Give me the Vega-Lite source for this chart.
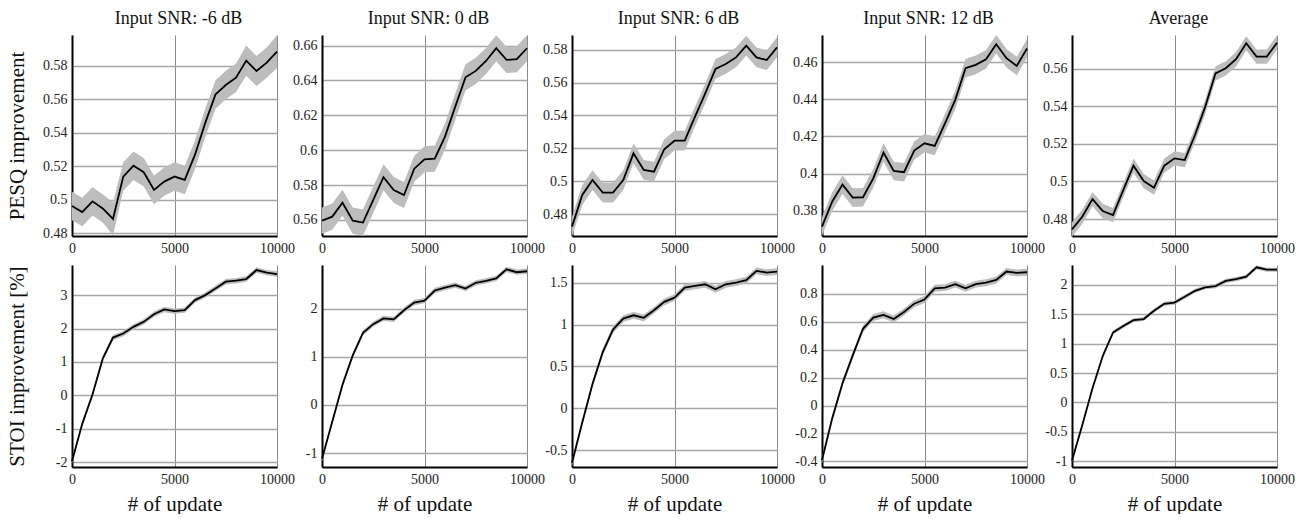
{
"$schema": "https://vega.github.io/schema/vega-lite/v6.json",
"background": "white",
"padding": {"left": 5, "top": 10, "right": 0, "bottom": 0},
"spacing": 8,
"datasets": {
"p1": [
{"x":0,"y":0.4963,"lo":0.4878,"hi":0.5048},{"x":500,"y":0.4927,"lo":0.4842,"hi":0.5012},{"x":1000,"y":0.4991,"lo":0.4906,"hi":0.5076},{"x":1500,"y":0.4949,"lo":0.4864,"hi":0.5034},{"x":2000,"y":0.4886,"lo":0.4788,"hi":0.4984},{"x":2500,"y":0.5139,"lo":0.5054,"hi":0.5224},{"x":3000,"y":0.5204,"lo":0.5119,"hi":0.5289},{"x":3500,"y":0.5165,"lo":0.508,"hi":0.525},{"x":4000,"y":0.5059,"lo":0.4974,"hi":0.5144},{"x":4500,"y":0.5109,"lo":0.5024,"hi":0.5194},{"x":5000,"y":0.5139,"lo":0.5054,"hi":0.5224},{"x":5500,"y":0.5119,"lo":0.5034,"hi":0.5204},{"x":6000,"y":0.527,"lo":0.5185,"hi":0.5355},{"x":6500,"y":0.546,"lo":0.5375,"hi":0.5545},{"x":7000,"y":0.563,"lo":0.5545,"hi":0.5715},{"x":7500,"y":0.5686,"lo":0.5601,"hi":0.5771},{"x":8000,"y":0.573,"lo":0.5645,"hi":0.5815},{"x":8500,"y":0.5832,"lo":0.5742,"hi":0.5922},{"x":9000,"y":0.577,"lo":0.568,"hi":0.586},{"x":9500,"y":0.582,"lo":0.573,"hi":0.591},{"x":10000,"y":0.5886,"lo":0.5788,"hi":0.5984}],
"p2": [
{"x":0,"y":0.5596,"lo":0.5521,"hi":0.5671},{"x":500,"y":0.5619,"lo":0.5544,"hi":0.5694},{"x":1000,"y":0.5699,"lo":0.5624,"hi":0.5774},{"x":1500,"y":0.5596,"lo":0.5521,"hi":0.5671},{"x":2000,"y":0.5585,"lo":0.551,"hi":0.566},{"x":2500,"y":0.5715,"lo":0.564,"hi":0.579},{"x":3000,"y":0.5845,"lo":0.577,"hi":0.592},{"x":3500,"y":0.5772,"lo":0.5697,"hi":0.5847},{"x":4000,"y":0.5743,"lo":0.5668,"hi":0.5818},{"x":4500,"y":0.5894,"lo":0.5819,"hi":0.5969},{"x":5000,"y":0.5948,"lo":0.5873,"hi":0.6023},{"x":5500,"y":0.5952,"lo":0.5877,"hi":0.6027},{"x":6000,"y":0.6078,"lo":0.6003,"hi":0.6153},{"x":6500,"y":0.625,"lo":0.6175,"hi":0.6325},{"x":7000,"y":0.6418,"lo":0.6343,"hi":0.6493},{"x":7500,"y":0.6455,"lo":0.638,"hi":0.653},{"x":8000,"y":0.6512,"lo":0.6437,"hi":0.6587},{"x":8500,"y":0.6585,"lo":0.651,"hi":0.666},{"x":9000,"y":0.6518,"lo":0.6443,"hi":0.6593},{"x":9500,"y":0.6522,"lo":0.6447,"hi":0.6597},{"x":10000,"y":0.6585,"lo":0.651,"hi":0.666}],
"p3": [
{"x":0,"y":0.4725,"lo":0.4665,"hi":0.4785},{"x":500,"y":0.4917,"lo":0.4857,"hi":0.4977},{"x":1000,"y":0.5008,"lo":0.4948,"hi":0.5068},{"x":1500,"y":0.4932,"lo":0.4872,"hi":0.4992},{"x":2000,"y":0.4932,"lo":0.4872,"hi":0.4992},{"x":2500,"y":0.5008,"lo":0.4948,"hi":0.5068},{"x":3000,"y":0.517,"lo":0.511,"hi":0.523},{"x":3500,"y":0.5069,"lo":0.5009,"hi":0.5129},{"x":4000,"y":0.5059,"lo":0.4999,"hi":0.5119},{"x":4500,"y":0.5195,"lo":0.5135,"hi":0.5255},{"x":5000,"y":0.5247,"lo":0.5187,"hi":0.5307},{"x":5500,"y":0.5247,"lo":0.5187,"hi":0.5307},{"x":6000,"y":0.5393,"lo":0.5333,"hi":0.5453},{"x":6500,"y":0.5535,"lo":0.5475,"hi":0.5595},{"x":7000,"y":0.5683,"lo":0.5623,"hi":0.5743},{"x":7500,"y":0.5713,"lo":0.5653,"hi":0.5773},{"x":8000,"y":0.5753,"lo":0.5693,"hi":0.5813},{"x":8500,"y":0.5824,"lo":0.5764,"hi":0.5884},{"x":9000,"y":0.5753,"lo":0.5693,"hi":0.5813},{"x":9500,"y":0.5737,"lo":0.5677,"hi":0.5797},{"x":10000,"y":0.5814,"lo":0.5754,"hi":0.5874}],
"p4": [
{"x":0,"y":0.3714,"lo":0.3664,"hi":0.3764},{"x":500,"y":0.3849,"lo":0.3799,"hi":0.3899},{"x":1000,"y":0.394,"lo":0.389,"hi":0.399},{"x":1500,"y":0.387,"lo":0.382,"hi":0.392},{"x":2000,"y":0.3872,"lo":0.3822,"hi":0.3922},{"x":2500,"y":0.3974,"lo":0.3924,"hi":0.4024},{"x":3000,"y":0.4113,"lo":0.4063,"hi":0.4163},{"x":3500,"y":0.4014,"lo":0.3964,"hi":0.4064},{"x":4000,"y":0.4007,"lo":0.3957,"hi":0.4057},{"x":4500,"y":0.4124,"lo":0.4074,"hi":0.4174},{"x":5000,"y":0.4163,"lo":0.4113,"hi":0.4213},{"x":5500,"y":0.4149,"lo":0.4099,"hi":0.4199},{"x":6000,"y":0.4271,"lo":0.4221,"hi":0.4321},{"x":6500,"y":0.4397,"lo":0.4347,"hi":0.4447},{"x":7000,"y":0.4568,"lo":0.4518,"hi":0.4618},{"x":7500,"y":0.4586,"lo":0.4536,"hi":0.4636},{"x":8000,"y":0.4616,"lo":0.4566,"hi":0.4666},{"x":8500,"y":0.4697,"lo":0.4647,"hi":0.4747},{"x":9000,"y":0.4622,"lo":0.4572,"hi":0.4672},{"x":9500,"y":0.458,"lo":0.453,"hi":0.463},{"x":10000,"y":0.4674,"lo":0.4624,"hi":0.4724}],
"p5": [
{"x":0,"y":0.4745,"lo":0.4707,"hi":0.4783},{"x":500,"y":0.4812,"lo":0.4774,"hi":0.485},{"x":1000,"y":0.4906,"lo":0.4868,"hi":0.4944},{"x":1500,"y":0.4843,"lo":0.4805,"hi":0.4881},{"x":2000,"y":0.4821,"lo":0.4783,"hi":0.4859},{"x":2500,"y":0.4954,"lo":0.4916,"hi":0.4992},{"x":3000,"y":0.5084,"lo":0.5046,"hi":0.5122},{"x":3500,"y":0.5002,"lo":0.4964,"hi":0.504},{"x":4000,"y":0.4967,"lo":0.4929,"hi":0.5005},{"x":4500,"y":0.5084,"lo":0.5046,"hi":0.5122},{"x":5000,"y":0.5123,"lo":0.5085,"hi":0.5161},{"x":5500,"y":0.5114,"lo":0.5076,"hi":0.5152},{"x":6000,"y":0.5247,"lo":0.5209,"hi":0.5285},{"x":6500,"y":0.5398,"lo":0.536,"hi":0.5436},{"x":7000,"y":0.5575,"lo":0.5537,"hi":0.5613},{"x":7500,"y":0.5602,"lo":0.5564,"hi":0.564},{"x":8000,"y":0.565,"lo":0.5612,"hi":0.5688},{"x":8500,"y":0.5735,"lo":0.5697,"hi":0.5773},{"x":9000,"y":0.5664,"lo":0.5626,"hi":0.5702},{"x":9500,"y":0.5664,"lo":0.5626,"hi":0.5702},{"x":10000,"y":0.5738,"lo":0.57,"hi":0.5776}],
"p6": [
{"x":0,"y":-1.97,"lo":-2.05,"hi":-1.89},{"x":500,"y":-0.85,"lo":-0.93,"hi":-0.77},{"x":1000,"y":0.03,"lo":-0.05,"hi":0.11},{"x":1500,"y":1.1,"lo":1.02,"hi":1.18},{"x":2000,"y":1.73,"lo":1.65,"hi":1.81},{"x":2500,"y":1.85,"lo":1.77,"hi":1.93},{"x":3000,"y":2.05,"lo":1.97,"hi":2.13},{"x":3500,"y":2.2,"lo":2.12,"hi":2.28},{"x":4000,"y":2.43,"lo":2.35,"hi":2.51},{"x":4500,"y":2.57,"lo":2.49,"hi":2.65},{"x":5000,"y":2.52,"lo":2.44,"hi":2.6},{"x":5500,"y":2.55,"lo":2.47,"hi":2.63},{"x":6000,"y":2.85,"lo":2.77,"hi":2.93},{"x":6500,"y":3.0,"lo":2.92,"hi":3.08},{"x":7000,"y":3.2,"lo":3.12,"hi":3.28},{"x":7500,"y":3.4,"lo":3.32,"hi":3.48},{"x":8000,"y":3.43,"lo":3.35,"hi":3.51},{"x":8500,"y":3.48,"lo":3.4,"hi":3.56},{"x":9000,"y":3.75,"lo":3.67,"hi":3.83},{"x":9500,"y":3.67,"lo":3.59,"hi":3.75},{"x":10000,"y":3.63,"lo":3.55,"hi":3.71}],
"p7": [
{"x":0,"y":-1.12,"lo":-1.175,"hi":-1.065},{"x":500,"y":-0.35,"lo":-0.405,"hi":-0.295},{"x":1000,"y":0.42,"lo":0.365,"hi":0.475},{"x":1500,"y":1.03,"lo":0.975,"hi":1.085},{"x":2000,"y":1.5,"lo":1.445,"hi":1.555},{"x":2500,"y":1.68,"lo":1.625,"hi":1.735},{"x":3000,"y":1.8,"lo":1.745,"hi":1.855},{"x":3500,"y":1.78,"lo":1.725,"hi":1.835},{"x":4000,"y":1.97,"lo":1.915,"hi":2.025},{"x":4500,"y":2.13,"lo":2.075,"hi":2.185},{"x":5000,"y":2.17,"lo":2.115,"hi":2.225},{"x":5500,"y":2.38,"lo":2.325,"hi":2.435},{"x":6000,"y":2.44,"lo":2.385,"hi":2.495},{"x":6500,"y":2.49,"lo":2.435,"hi":2.545},{"x":7000,"y":2.42,"lo":2.365,"hi":2.475},{"x":7500,"y":2.54,"lo":2.485,"hi":2.595},{"x":8000,"y":2.58,"lo":2.525,"hi":2.635},{"x":8500,"y":2.63,"lo":2.575,"hi":2.685},{"x":9000,"y":2.82,"lo":2.765,"hi":2.875},{"x":9500,"y":2.76,"lo":2.705,"hi":2.815},{"x":10000,"y":2.78,"lo":2.725,"hi":2.835}],
"p8": [
{"x":0,"y":-0.65,"lo":-0.69,"hi":-0.61},{"x":500,"y":-0.17,"lo":-0.21,"hi":-0.13},{"x":1000,"y":0.29,"lo":0.25,"hi":0.33},{"x":1500,"y":0.67,"lo":0.63,"hi":0.71},{"x":2000,"y":0.94,"lo":0.9,"hi":0.98},{"x":2500,"y":1.07,"lo":1.03,"hi":1.11},{"x":3000,"y":1.11,"lo":1.07,"hi":1.15},{"x":3500,"y":1.08,"lo":1.04,"hi":1.12},{"x":4000,"y":1.17,"lo":1.13,"hi":1.21},{"x":4500,"y":1.27,"lo":1.23,"hi":1.31},{"x":5000,"y":1.32,"lo":1.28,"hi":1.36},{"x":5500,"y":1.44,"lo":1.4,"hi":1.48},{"x":6000,"y":1.46,"lo":1.42,"hi":1.5},{"x":6500,"y":1.48,"lo":1.44,"hi":1.52},{"x":7000,"y":1.42,"lo":1.38,"hi":1.46},{"x":7500,"y":1.48,"lo":1.44,"hi":1.52},{"x":8000,"y":1.5,"lo":1.46,"hi":1.54},{"x":8500,"y":1.53,"lo":1.49,"hi":1.57},{"x":9000,"y":1.64,"lo":1.6,"hi":1.68},{"x":9500,"y":1.62,"lo":1.58,"hi":1.66},{"x":10000,"y":1.63,"lo":1.59,"hi":1.67}],
"p9": [
{"x":0,"y":-0.39,"lo":-0.415,"hi":-0.365},{"x":500,"y":-0.09,"lo":-0.115,"hi":-0.065},{"x":1000,"y":0.16,"lo":0.135,"hi":0.185},{"x":1500,"y":0.36,"lo":0.335,"hi":0.385},{"x":2000,"y":0.55,"lo":0.525,"hi":0.575},{"x":2500,"y":0.63,"lo":0.605,"hi":0.655},{"x":3000,"y":0.65,"lo":0.625,"hi":0.675},{"x":3500,"y":0.62,"lo":0.595,"hi":0.645},{"x":4000,"y":0.67,"lo":0.645,"hi":0.695},{"x":4500,"y":0.73,"lo":0.705,"hi":0.755},{"x":5000,"y":0.76,"lo":0.735,"hi":0.785},{"x":5500,"y":0.84,"lo":0.815,"hi":0.865},{"x":6000,"y":0.845,"lo":0.82,"hi":0.87},{"x":6500,"y":0.87,"lo":0.845,"hi":0.895},{"x":7000,"y":0.84,"lo":0.815,"hi":0.865},{"x":7500,"y":0.87,"lo":0.845,"hi":0.895},{"x":8000,"y":0.88,"lo":0.855,"hi":0.905},{"x":8500,"y":0.9,"lo":0.875,"hi":0.925},{"x":9000,"y":0.96,"lo":0.935,"hi":0.985},{"x":9500,"y":0.95,"lo":0.925,"hi":0.975},{"x":10000,"y":0.955,"lo":0.93,"hi":0.98}],
"p10": [
{"x":0,"y":-0.99,"lo":-1.025,"hi":-0.955},{"x":500,"y":-0.39,"lo":-0.425,"hi":-0.355},{"x":1000,"y":0.24,"lo":0.205,"hi":0.275},{"x":1500,"y":0.79,"lo":0.755,"hi":0.825},{"x":2000,"y":1.19,"lo":1.155,"hi":1.225},{"x":2500,"y":1.3,"lo":1.265,"hi":1.335},{"x":3000,"y":1.4,"lo":1.365,"hi":1.435},{"x":3500,"y":1.42,"lo":1.385,"hi":1.455},{"x":4000,"y":1.56,"lo":1.525,"hi":1.595},{"x":4500,"y":1.68,"lo":1.645,"hi":1.715},{"x":5000,"y":1.7,"lo":1.665,"hi":1.735},{"x":5500,"y":1.8,"lo":1.765,"hi":1.835},{"x":6000,"y":1.9,"lo":1.865,"hi":1.935},{"x":6500,"y":1.96,"lo":1.925,"hi":1.995},{"x":7000,"y":1.98,"lo":1.945,"hi":2.015},{"x":7500,"y":2.07,"lo":2.035,"hi":2.105},{"x":8000,"y":2.1,"lo":2.065,"hi":2.135},{"x":8500,"y":2.14,"lo":2.105,"hi":2.175},{"x":9000,"y":2.3,"lo":2.265,"hi":2.335},{"x":9500,"y":2.26,"lo":2.225,"hi":2.295},{"x":10000,"y":2.26,"lo":2.225,"hi":2.295}]
},
"vconcat": [
{"hconcat": [
{"width":205,"height":201,"data":{"name":"p1"},"title":{"text":"Input SNR: -6 dB"},
 "encoding":{"x":{"field":"x","type":"quantitative","scale":{"domain":[0,10000],"nice":false},"axis":{"values":[0,5000,10000],"title":null}}},
 "layer":[
  {"mark":{"type":"area","color":"#bdbdbd"},"encoding":{"y":{"field":"lo","type":"quantitative","scale":{"domain":[0.4784,0.5985],"nice":false,"zero":false},"axis":{"values":[0.48,0.5,0.52,0.54,0.56,0.58],"tickCount":50,"title":"PESQ improvement","titleX":-49,"titleY":100.5}},"y2":{"field":"hi"}}},
  {"mark":{"type":"line","color":"black","strokeWidth":1.8},"encoding":{"y":{"field":"y","type":"quantitative","title":"PESQ improvement"}}}]},
{"width":205,"height":201,"data":{"name":"p2"},"title":{"text":"Input SNR: 0 dB"},
 "encoding":{"x":{"field":"x","type":"quantitative","scale":{"domain":[0,10000],"nice":false},"axis":{"values":[0,5000,10000],"title":null}}},
 "layer":[
  {"mark":{"type":"area","color":"#bdbdbd"},"encoding":{"y":{"field":"lo","type":"quantitative","scale":{"domain":[0.5508,0.6661],"nice":false,"zero":false},"axis":{"values":[0.56,0.58,0.6,0.62,0.64,0.66],"tickCount":50,"title":null}},"y2":{"field":"hi"}}},
  {"mark":{"type":"line","color":"black","strokeWidth":1.8},"encoding":{"y":{"field":"y","type":"quantitative","title":null}}}]},
{"width":205,"height":201,"data":{"name":"p3"},"title":{"text":"Input SNR: 6 dB"},
 "encoding":{"x":{"field":"x","type":"quantitative","scale":{"domain":[0,10000],"nice":false},"axis":{"values":[0,5000,10000],"title":null}}},
 "layer":[
  {"mark":{"type":"area","color":"#bdbdbd"},"encoding":{"y":{"field":"lo","type":"quantitative","scale":{"domain":[0.4668,0.5889],"nice":false,"zero":false},"axis":{"values":[0.48,0.5,0.52,0.54,0.56,0.58],"tickCount":50,"title":null}},"y2":{"field":"hi"}}},
  {"mark":{"type":"line","color":"black","strokeWidth":1.8},"encoding":{"y":{"field":"y","type":"quantitative","title":null}}}]},
{"width":205,"height":201,"data":{"name":"p4"},"title":{"text":"Input SNR: 12 dB"},
 "encoding":{"x":{"field":"x","type":"quantitative","scale":{"domain":[0,10000],"nice":false},"axis":{"values":[0,5000,10000],"title":null}}},
 "layer":[
  {"mark":{"type":"area","color":"#bdbdbd"},"encoding":{"y":{"field":"lo","type":"quantitative","scale":{"domain":[0.3663,0.4747],"nice":false,"zero":false},"axis":{"values":[0.38,0.4,0.42,0.44,0.46],"tickCount":50,"title":null}},"y2":{"field":"hi"}}},
  {"mark":{"type":"line","color":"black","strokeWidth":1.8},"encoding":{"y":{"field":"y","type":"quantitative","title":null}}}]},
{"width":205,"height":201,"data":{"name":"p5"},"title":{"text":"Average"},
 "encoding":{"x":{"field":"x","type":"quantitative","scale":{"domain":[0,10000],"nice":false},"axis":{"values":[0,5000,10000],"title":null}}},
 "layer":[
  {"mark":{"type":"area","color":"#bdbdbd"},"encoding":{"y":{"field":"lo","type":"quantitative","scale":{"domain":[0.471,0.5779],"nice":false,"zero":false},"axis":{"values":[0.48,0.5,0.52,0.54,0.56],"tickCount":50,"title":null}},"y2":{"field":"hi"}}},
  {"mark":{"type":"line","color":"black","strokeWidth":1.8},"encoding":{"y":{"field":"y","type":"quantitative","title":null}}}]}
], "spacing": 45, "bounds": "flush"},
{"hconcat": [
{"width":205,"height":202,"data":{"name":"p6"},
 "encoding":{"x":{"field":"x","type":"quantitative","scale":{"domain":[0,10000],"nice":false},"axis":{"values":[0,5000,10000],"title":"# of update","titleY":43}}},
 "layer":[
  {"mark":{"type":"area","color":"#bdbdbd"},"encoding":{"y":{"field":"lo","type":"quantitative","scale":{"domain":[-2.14,3.9],"nice":false,"zero":false},"axis":{"values":[-2,-1,0,1,2,3],"tickCount":50,"title":"STOI improvement [%]","titleX":-49,"titleY":101}},"y2":{"field":"hi"}}},
  {"mark":{"type":"line","color":"black","strokeWidth":1.8},"encoding":{"y":{"field":"y","type":"quantitative","title":"STOI improvement [%]"}}}]},
{"width":205,"height":202,"data":{"name":"p7"},
 "encoding":{"x":{"field":"x","type":"quantitative","scale":{"domain":[0,10000],"nice":false},"axis":{"values":[0,5000,10000],"title":"# of update","titleY":43}}},
 "layer":[
  {"mark":{"type":"area","color":"#bdbdbd"},"encoding":{"y":{"field":"lo","type":"quantitative","scale":{"domain":[-1.29,2.91],"nice":false,"zero":false},"axis":{"values":[-1,0,1,2],"tickCount":50,"title":null}},"y2":{"field":"hi"}}},
  {"mark":{"type":"line","color":"black","strokeWidth":1.8},"encoding":{"y":{"field":"y","type":"quantitative","title":null}}}]},
{"width":205,"height":202,"data":{"name":"p8"},
 "encoding":{"x":{"field":"x","type":"quantitative","scale":{"domain":[0,10000],"nice":false},"axis":{"values":[0,5000,10000],"title":"# of update","titleY":43}}},
 "layer":[
  {"mark":{"type":"area","color":"#bdbdbd"},"encoding":{"y":{"field":"lo","type":"quantitative","scale":{"domain":[-0.7,1.71],"nice":false,"zero":false},"axis":{"values":[-0.5,0,0.5,1,1.5],"tickCount":50,"title":null}},"y2":{"field":"hi"}}},
  {"mark":{"type":"line","color":"black","strokeWidth":1.8},"encoding":{"y":{"field":"y","type":"quantitative","title":null}}}]},
{"width":205,"height":202,"data":{"name":"p9"},
 "encoding":{"x":{"field":"x","type":"quantitative","scale":{"domain":[0,10000],"nice":false},"axis":{"values":[0,5000,10000],"title":"# of update","titleY":43}}},
 "layer":[
  {"mark":{"type":"area","color":"#bdbdbd"},"encoding":{"y":{"field":"lo","type":"quantitative","scale":{"domain":[-0.44,1.007],"nice":false,"zero":false},"axis":{"values":[-0.4,-0.2,0,0.2,0.4,0.6,0.8],"tickCount":50,"title":null}},"y2":{"field":"hi"}}},
  {"mark":{"type":"line","color":"black","strokeWidth":1.8},"encoding":{"y":{"field":"y","type":"quantitative","title":null}}}]},
{"width":205,"height":202,"data":{"name":"p10"},
 "encoding":{"x":{"field":"x","type":"quantitative","scale":{"domain":[0,10000],"nice":false},"axis":{"values":[0,5000,10000],"title":"# of update","titleY":43}}},
 "layer":[
  {"mark":{"type":"area","color":"#bdbdbd"},"encoding":{"y":{"field":"lo","type":"quantitative","scale":{"domain":[-1.1,2.34],"nice":false,"zero":false},"axis":{"values":[-1,-0.5,0,0.5,1,1.5,2],"tickCount":50,"title":null}},"y2":{"field":"hi"}}},
  {"mark":{"type":"line","color":"black","strokeWidth":1.8},"encoding":{"y":{"field":"y","type":"quantitative","title":null}}}]}
], "spacing": 45, "bounds": "flush"}
],
"config": {
 "font": "Liberation Serif",
 "view": {"stroke": null},
 "axis": {"labelFont": "Liberation Serif", "labelFontSize": 14, "labelColor": "#222", "titleFont": "Liberation Serif", "titleFontSize": 21, "titleFontWeight": "normal", "titleColor": "#111", "titleBaseline": "alphabetic", "domainColor": "black", "domainWidth": 2, "ticks": false, "tickSize": 0, "labelPadding": 5, "labelOverlap": false, "labelFlush": false, "labelExpr": "toString(datum.value)"},
 "axisX": {"labelFont": "Liberation Serif", "gridColor": "#8a8a8a", "gridWidth": 1, "labelPadding": 5},
 "axisY": {"labelFont": "Liberation Serif", "gridColor": "#a6a6a6", "gridWidth": 1.5},
 "title": {"font": "Liberation Serif", "fontSize": 18, "fontWeight": "normal", "color": "#111", "dx": 4, "offset": 7, "baseline": "alphabetic", "frame": "group"}
}
}
